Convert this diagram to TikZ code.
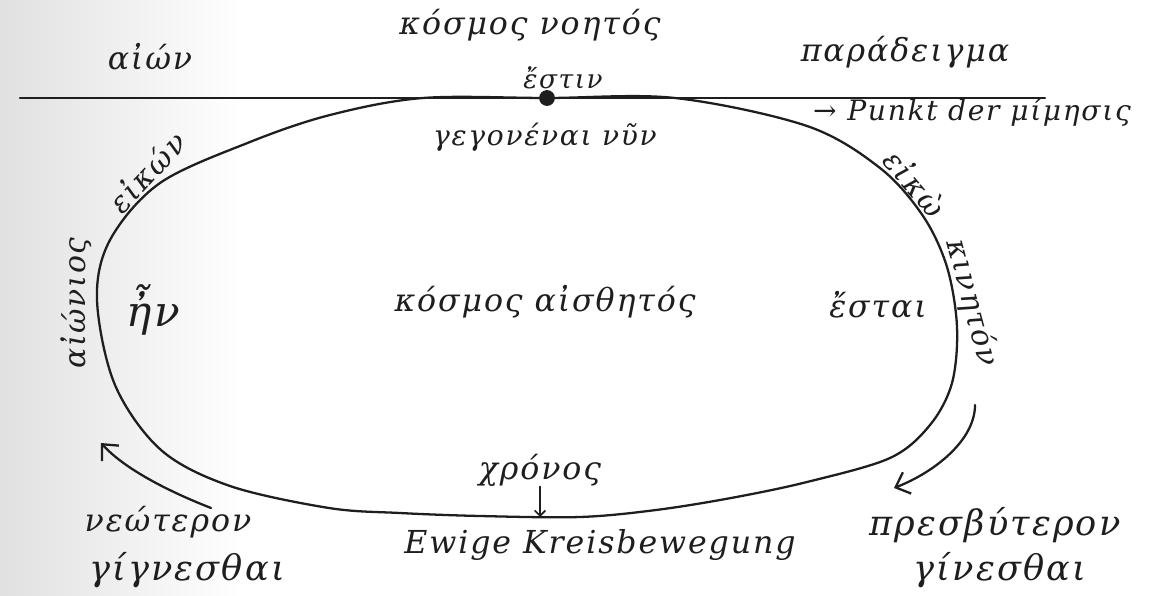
\documentclass[tikz,border=0pt]{standalone}
\usepackage{fontspec}
\setmainfont{DejaVu Serif}[LetterSpace=6]
\usetikzlibrary{arrows.meta}
\definecolor{hink}{HTML}{1E1E1E}
\tikzset{
  hand/.style={text=hink, inner sep=0pt, font=\fontsize{#1}{#1}\selectfont\itshape},
  hand/.default=18,
  hline/.style={draw=hink, line width=1.3pt, line cap=round, line join=round},
  hflow/.style={hline, -{Straight Barb[length=7pt,width=13pt]}},
}

\begin{document}
\begin{tikzpicture}[x=0.02cm,y=-0.02cm]
\useasboundingbox (0,0) rectangle (1173,595);
\shade[left color=black!12, right color=white] (0,0) rectangle (240,595);

% the line of the eternal
\coordinate (lineW) at (20,98);
\coordinate (lineE) at (1045,98);
\draw[hline] (lineW) -- (lineE);
\node[circle, fill=hink, inner sep=0pt, minimum size=9pt] (dot) at (547,98) {};

\node[hand] (aion) at (150,57) {αἰών};
\node[hand] (noetos) at (530,25) {κόσμος νοητός};
\node[hand=15] (esti) at (563,78) {ἔστιν};
\node[hand] (paradeigma) at (905,52) {παράδειγμα};
\node[hand=16] (punkt) at (972,112) {→ Punkt der μίμησις};

% the world of time
\draw[hline] plot[smooth cycle, tension=0.55] coordinates {
  (423,98) (547,98) (675,98) (807,126) (880,168) (923,216) (947,267)
  (957,327) (952,383) (930,425) (890,458) (807,482) (731,498) (656,510)
  (580,517) (480,516) (400,513) (329,508) (230,486) (161,450) (115,385)
  (97,300) (110,240) (160,183) (250,142) (330,115)};

\node[hand=16] (gegonenai) at (545,137) {γεγονέναι νῦν};
\node[hand=17, rotate=47] (eikonL) at (147,172) {εἰκών};
\node[hand=17, rotate=90] (aionios) at (76,303) {αἰώνιος};
\node[hand=24] (en) at (153,310) {ἦν};
\node[hand] (aisthetos) at (545,302) {κόσμος αἰσθητός};
\node[hand] (estai) at (878,305) {ἔσται};
\node[hand=17, rotate=-50] (eikonR) at (915,183) {εἰκὼ};
\node[hand=17, rotate=-75] (kineton) at (972,303) {κινητόν};

% time below
\node[hand] (chronos) at (540,470) {χρόνος};
\coordinate (chronosfoot) at (540,517);
\draw[hline, line width=1pt, -{Straight Barb[length=3pt,width=6pt]}] (chronos.south) -- (chronosfoot);
\node[hand] (kreis) at (600,545) {Ewige Kreisbewegung};

\node[hand] (neoteron) at (168,522) {νεώτερον};
\node[hand=20] (gignL) at (187,570) {γίγνεσθαι};
\node[hand=20] (presb) at (995,525) {πρεσβύτερον};
\node[hand=20] (gignR) at (1000,570) {γίνεσθαι};

\coordinate (leftA) at (211,508);
\coordinate (leftB) at (101,443);
\draw[hflow] (leftA) .. controls (160,488) and (122,466) .. (leftB);
\coordinate (rightA) at (975,405);
\coordinate (rightB) at (894,488);
\draw[hflow] (rightA) .. controls (975,440) and (935,472) .. (rightB);

\end{tikzpicture}
\end{document}
